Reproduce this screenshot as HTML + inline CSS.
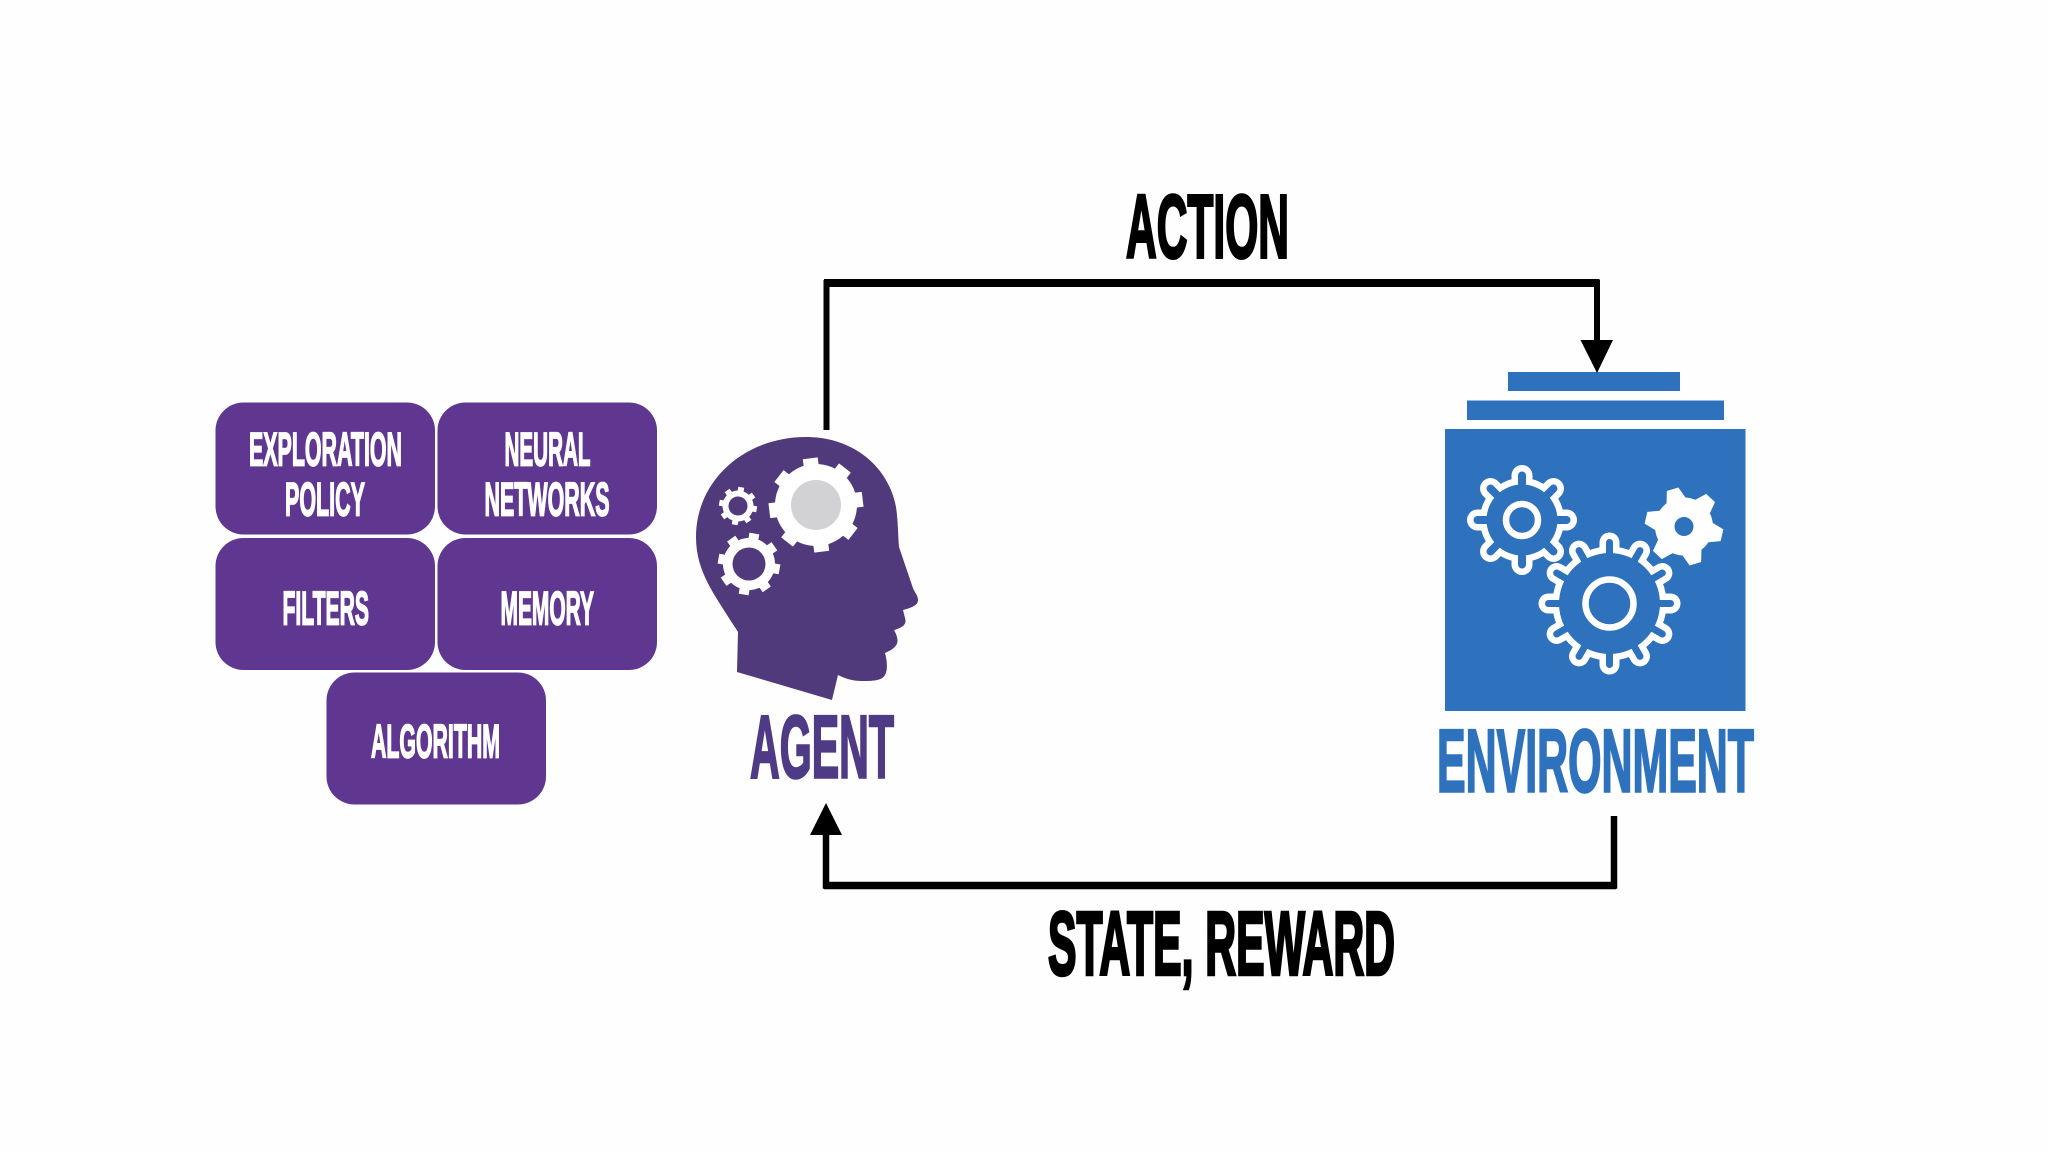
<!DOCTYPE html>
<html><head><meta charset="utf-8"><style>
html,body{margin:0;padding:0;background:#fff;width:2048px;height:1152px;overflow:hidden}
svg{display:block}
text{font-family:"Liberation Sans",sans-serif;font-weight:bold}
.w{fill:#fff;stroke:#fff;stroke-width:1.7;font-size:47px}
</style></head><body>
<svg width="2048" height="1152" viewBox="0 0 2048 1152" xmlns="http://www.w3.org/2000/svg">
<rect width="2048" height="1152" fill="#fefefe"/>
<!-- purple boxes -->
<g fill="#5f3791">
<rect x="215.5" y="402.5" width="219.5" height="132" rx="28"/>
<rect x="437.5" y="402.5" width="219.5" height="132" rx="28"/>
<rect x="215.5" y="538" width="219.5" height="132" rx="28"/>
<rect x="437.5" y="538" width="219.5" height="132" rx="28"/>
<rect x="326.5" y="672.5" width="219.5" height="132" rx="28"/>
</g>
<text class="w" x="249" y="465.5" textLength="153" lengthAdjust="spacingAndGlyphs">EXPLORATION</text>
<text class="w" x="285" y="515.5" textLength="80" lengthAdjust="spacingAndGlyphs">POLICY</text>
<text class="w" x="504.5" y="465.5" textLength="86" lengthAdjust="spacingAndGlyphs">NEURAL</text>
<text class="w" x="484.5" y="515.5" textLength="125" lengthAdjust="spacingAndGlyphs">NETWORKS</text>
<text class="w" x="282.5" y="624.5" textLength="86.5" lengthAdjust="spacingAndGlyphs">FILTERS</text>
<text class="w" x="500.5" y="624.5" textLength="93.5" lengthAdjust="spacingAndGlyphs">MEMORY</text>
<text class="w" x="371" y="757.5" textLength="129" lengthAdjust="spacingAndGlyphs">ALGORITHM</text>

<!-- head -->
<path fill="#503a7b" d="M806 437C745 437 696 480 696 537C696 572 714 594 738 632L737 672L832 700L838 675C846 679 853 681 862 681C872 681 882 681 885 675C888 670 887 660 885 653C892 650 898 646 897.5 640C897 635 895 632 894 630C900 628 906 626 905.5 620L903 610C910 608 918 606 918 600C918 595 914 592 912.6 587L899 547C898 535 898 520 896 507C888 465 852 437 806 437Z"/>
<!-- big head gear -->
<g transform="translate(816,505) rotate(-7)" fill="#fff" stroke="#fff">
<circle r="41" stroke="none"/>
<g stroke-width="15">
<line y1="-35" y2="-47"/><line y1="-35" y2="-47" transform="rotate(45)"/><line y1="-35" y2="-47" transform="rotate(90)"/><line y1="-35" y2="-47" transform="rotate(135)"/><line y1="-35" y2="-47" transform="rotate(180)"/><line y1="-35" y2="-47" transform="rotate(225)"/><line y1="-35" y2="-47" transform="rotate(270)"/><line y1="-35" y2="-47" transform="rotate(315)"/>
</g>
</g>
<circle cx="816" cy="505" r="25" fill="#d2d1d3"/>
<!-- medium head gear -->
<g transform="translate(749,564) rotate(10)" fill="#fff" stroke="#fff">
<circle r="26" stroke="none"/>
<g stroke-width="10">
<line y1="-22" y2="-31"/><line y1="-22" y2="-31" transform="rotate(45)"/><line y1="-22" y2="-31" transform="rotate(90)"/><line y1="-22" y2="-31" transform="rotate(135)"/><line y1="-22" y2="-31" transform="rotate(180)"/><line y1="-22" y2="-31" transform="rotate(225)"/><line y1="-22" y2="-31" transform="rotate(270)"/><line y1="-22" y2="-31" transform="rotate(315)"/>
</g>
</g>
<circle cx="749" cy="564" r="16.5" fill="#503a7b"/>
<!-- small head gear -->
<g transform="translate(738,506) rotate(10)" fill="#fff" stroke="#fff">
<circle r="15.5" stroke="none"/>
<g stroke-width="6">
<line y1="-13" y2="-19"/><line y1="-13" y2="-19" transform="rotate(45)"/><line y1="-13" y2="-19" transform="rotate(90)"/><line y1="-13" y2="-19" transform="rotate(135)"/><line y1="-13" y2="-19" transform="rotate(180)"/><line y1="-13" y2="-19" transform="rotate(225)"/><line y1="-13" y2="-19" transform="rotate(270)"/><line y1="-13" y2="-19" transform="rotate(315)"/>
</g>
</g>
<circle cx="738" cy="506" r="9.5" fill="#503a7b"/>
<text x="750" y="777.5" font-size="89" fill="#4f3a85" stroke="#4f3a85" stroke-width="2.5" textLength="144" lengthAdjust="spacingAndGlyphs">AGENT</text>

<!-- environment -->
<g fill="#2e72bd">
<rect x="1508" y="372" width="172" height="19"/>
<rect x="1467" y="400.5" width="257" height="19.5"/>
<rect x="1445" y="429" width="300.5" height="282"/>
</g>
<!-- gear 1 -->
<g transform="translate(1522,520)" stroke-linecap="round">
<circle r="42" fill="#fff"/>
<g stroke="#fff" stroke-width="21">
<line y1="-32" y2="-44.5"/><line y1="-32" y2="-44.5" transform="rotate(45)"/><line y1="-32" y2="-44.5" transform="rotate(90)"/><line y1="-32" y2="-44.5" transform="rotate(135)"/><line y1="-32" y2="-44.5" transform="rotate(180)"/><line y1="-32" y2="-44.5" transform="rotate(225)"/><line y1="-32" y2="-44.5" transform="rotate(270)"/><line y1="-32" y2="-44.5" transform="rotate(315)"/>
</g>
<circle r="35.5" fill="#2e72bd"/>
<g stroke="#2e72bd" stroke-width="8">
<line y1="-30" y2="-44.5"/><line y1="-30" y2="-44.5" transform="rotate(45)"/><line y1="-30" y2="-44.5" transform="rotate(90)"/><line y1="-30" y2="-44.5" transform="rotate(135)"/><line y1="-30" y2="-44.5" transform="rotate(180)"/><line y1="-30" y2="-44.5" transform="rotate(225)"/><line y1="-30" y2="-44.5" transform="rotate(270)"/><line y1="-30" y2="-44.5" transform="rotate(315)"/>
</g>
<circle r="16" fill="none" stroke="#fff" stroke-width="6.5"/>
</g>
<!-- gear 2 -->
<g transform="translate(1609.5,603.5)" stroke-linecap="round">
<circle r="57" fill="#fff"/>
<g stroke="#fff" stroke-width="20">
<line y1="-48" y2="-61"/><line y1="-48" y2="-61" transform="rotate(30)"/><line y1="-48" y2="-61" transform="rotate(60)"/><line y1="-48" y2="-61" transform="rotate(90)"/><line y1="-48" y2="-61" transform="rotate(120)"/><line y1="-48" y2="-61" transform="rotate(150)"/><line y1="-48" y2="-61" transform="rotate(180)"/><line y1="-48" y2="-61" transform="rotate(210)"/><line y1="-48" y2="-61" transform="rotate(240)"/><line y1="-48" y2="-61" transform="rotate(270)"/><line y1="-48" y2="-61" transform="rotate(300)"/><line y1="-48" y2="-61" transform="rotate(330)"/>
</g>
<circle r="50.5" fill="#2e72bd"/>
<g stroke="#2e72bd" stroke-width="7">
<line y1="-45" y2="-61"/><line y1="-45" y2="-61" transform="rotate(30)"/><line y1="-45" y2="-61" transform="rotate(60)"/><line y1="-45" y2="-61" transform="rotate(90)"/><line y1="-45" y2="-61" transform="rotate(120)"/><line y1="-45" y2="-61" transform="rotate(150)"/><line y1="-45" y2="-61" transform="rotate(180)"/><line y1="-45" y2="-61" transform="rotate(210)"/><line y1="-45" y2="-61" transform="rotate(240)"/><line y1="-45" y2="-61" transform="rotate(270)"/><line y1="-45" y2="-61" transform="rotate(300)"/><line y1="-45" y2="-61" transform="rotate(330)"/>
</g>
<circle r="24" fill="none" stroke="#fff" stroke-width="6.5"/>
</g>
<!-- gear 3 -->
<g transform="translate(1684,526.5) rotate(-17)" fill="#fff">
<circle r="29"/>
<polygon points="-11,-24 -6,-39 6,-39 11,-24"/>
<polygon points="-11,-24 -6,-39 6,-39 11,-24" transform="rotate(60)"/>
<polygon points="-11,-24 -6,-39 6,-39 11,-24" transform="rotate(120)"/>
<polygon points="-11,-24 -6,-39 6,-39 11,-24" transform="rotate(180)"/>
<polygon points="-11,-24 -6,-39 6,-39 11,-24" transform="rotate(240)"/>
<polygon points="-11,-24 -6,-39 6,-39 11,-24" transform="rotate(300)"/>
<circle r="9.5" fill="#2e72bd"/>
</g>
<text x="1437" y="791.5" font-size="89" fill="#2e72bd" stroke="#2e72bd" stroke-width="2.5" textLength="317" lengthAdjust="spacingAndGlyphs">ENVIRONMENT</text>

<!-- connectors -->
<path d="M826.5 430V283H1597V345" fill="none" stroke="#000" stroke-width="6"/>
<path d="M824 283H1599.5" stroke="#000" stroke-width="8" fill="none"/>
<polygon points="1580.5,340 1613,340 1597,373" fill="#000"/>
<path d="M1614 816V885.5H826V830" fill="none" stroke="#000" stroke-width="6.5"/>
<path d="M824 885.5H1616" stroke="#000" stroke-width="7.5" fill="none"/>
<polygon points="810,835 842,835 826,803" fill="#000"/>

<!-- labels -->
<text x="1126" y="257.5" font-size="90" fill="#000" stroke="#000" stroke-width="3" textLength="163" lengthAdjust="spacingAndGlyphs">ACTION</text>
<text x="1048" y="974.5" font-size="90" fill="#000" stroke="#000" stroke-width="3.5" textLength="347" lengthAdjust="spacingAndGlyphs">STATE, REWARD</text>
</svg>
</body></html>
